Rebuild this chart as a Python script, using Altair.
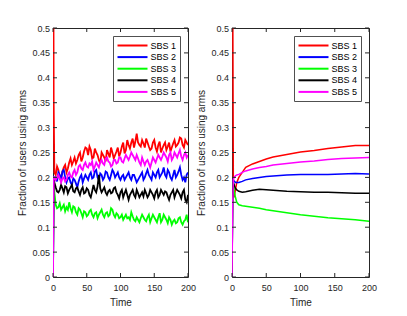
import altair as alt
import pandas as pd

series_names = ["SBS 1", "SBS 2", "SBS 3", "SBS 4", "SBS 5"]
series_colors = ["#ff0000", "#0000ff", "#00ff00", "#000000", "#ff00ff"]

x_ticks = [0, 50, 100, 150, 200]
y_ticks = [0, 0.05, 0.1, 0.15, 0.2, 0.25, 0.3, 0.35, 0.4, 0.45, 0.5]

# ---------------- left panel (noisy) ----------------
t_left = [0, 1] + list(range(2, 201, 2))
left_sbs1 = [1.0, 0.35, 0.21,
             0.205, 0.222, 0.215, 0.198, 0.2, 0.212, 0.22, 0.225, 0.21, 0.218,
             0.23, 0.238, 0.225, 0.232, 0.24, 0.228, 0.235, 0.245, 0.25, 0.232,
             0.24, 0.252, 0.26, 0.258, 0.245, 0.262, 0.255, 0.238, 0.24, 0.258,
             0.25, 0.245, 0.235, 0.228, 0.25, 0.245, 0.24, 0.232, 0.255, 0.248,
             0.24, 0.26, 0.25, 0.238, 0.245, 0.252, 0.26, 0.242, 0.25, 0.262,
             0.27, 0.248, 0.255, 0.275, 0.265, 0.258, 0.27, 0.278, 0.26, 0.272,
             0.288, 0.27, 0.265, 0.262, 0.275, 0.268, 0.26, 0.278, 0.27, 0.262,
             0.255, 0.258, 0.27, 0.275, 0.26, 0.252, 0.265, 0.272, 0.25, 0.258,
             0.265, 0.27, 0.255, 0.262, 0.27, 0.252, 0.26, 0.268, 0.275, 0.262,
             0.265, 0.27, 0.28, 0.278, 0.265, 0.26, 0.275, 0.27, 0.265]
left_sbs2 = [0.0, 0.2, 0.2,
             0.2, 0.192, 0.21, 0.205, 0.195, 0.212, 0.215, 0.2, 0.19, 0.198,
             0.2, 0.19, 0.185, 0.198, 0.195, 0.188, 0.18, 0.192, 0.2, 0.205,
             0.19, 0.198, 0.205, 0.2, 0.195, 0.205, 0.21, 0.198, 0.2, 0.212,
             0.215, 0.2, 0.195, 0.208, 0.205, 0.195, 0.2, 0.212, 0.21, 0.2,
             0.195, 0.205, 0.215, 0.21, 0.2, 0.205, 0.21, 0.2, 0.195, 0.202,
             0.205, 0.195, 0.2, 0.205, 0.21, 0.2, 0.195, 0.205, 0.205, 0.198,
             0.19, 0.195, 0.2, 0.205, 0.21, 0.195, 0.2, 0.208, 0.215, 0.205,
             0.2, 0.195, 0.21, 0.205, 0.2, 0.21, 0.215, 0.2, 0.205, 0.21,
             0.22, 0.205, 0.2, 0.215, 0.21, 0.2, 0.195, 0.205, 0.215, 0.2,
             0.205, 0.212, 0.22, 0.205, 0.195, 0.2, 0.19, 0.205, 0.21]
left_sbs3 = [0.0, 0.2, 0.17,
             0.145, 0.138, 0.14, 0.148, 0.135, 0.14, 0.145, 0.132, 0.14, 0.135,
             0.15, 0.138, 0.13, 0.142, 0.14, 0.13, 0.125, 0.138, 0.135, 0.128,
             0.12, 0.132, 0.13, 0.122, 0.125, 0.132, 0.135, 0.125, 0.12, 0.128,
             0.13, 0.118, 0.125, 0.13, 0.135, 0.125, 0.12, 0.128, 0.13, 0.122,
             0.125, 0.138, 0.135, 0.125, 0.12, 0.128, 0.125, 0.118, 0.12, 0.125,
             0.115, 0.12, 0.125, 0.118, 0.12, 0.115, 0.13, 0.122, 0.115, 0.112,
             0.12, 0.115, 0.11, 0.118, 0.125, 0.12, 0.115, 0.112, 0.12, 0.125,
             0.11, 0.118, 0.125, 0.12, 0.115, 0.11, 0.12, 0.128, 0.11, 0.115,
             0.125, 0.12, 0.115, 0.108, 0.12, 0.115, 0.105, 0.112, 0.115, 0.108,
             0.11, 0.118, 0.12, 0.11, 0.105, 0.112, 0.115, 0.125, 0.11]
left_sbs4 = [0.0, 0.2, 0.19,
             0.18, 0.172, 0.17, 0.175, 0.185, 0.178, 0.17, 0.182, 0.18, 0.168,
             0.175, 0.18, 0.185, 0.172, 0.17, 0.178, 0.18, 0.172, 0.165, 0.175,
             0.18, 0.168, 0.17, 0.178, 0.175, 0.165, 0.16, 0.172, 0.185, 0.175,
             0.17, 0.182, 0.205, 0.178, 0.17, 0.175, 0.18, 0.17, 0.165, 0.172,
             0.175, 0.168, 0.17, 0.178, 0.18, 0.17, 0.165, 0.158, 0.17, 0.175,
             0.16, 0.168, 0.175, 0.165, 0.155, 0.165, 0.17, 0.175, 0.165, 0.16,
             0.175, 0.168, 0.16, 0.165, 0.17, 0.162, 0.175, 0.168, 0.16, 0.165,
             0.175, 0.17, 0.165, 0.158, 0.17, 0.175, 0.16, 0.165, 0.175, 0.17,
             0.165, 0.172, 0.17, 0.162, 0.155, 0.165, 0.17, 0.175, 0.16, 0.168,
             0.175, 0.17, 0.165, 0.158, 0.17, 0.175, 0.155, 0.15, 0.165]
left_sbs5 = [0.0, 0.2, 0.2,
             0.195, 0.2, 0.205, 0.198, 0.19, 0.198, 0.2, 0.192, 0.195, 0.205,
             0.21, 0.202, 0.2, 0.21, 0.215, 0.205, 0.21, 0.222, 0.225, 0.218,
             0.215, 0.225, 0.23, 0.222, 0.22, 0.228, 0.225, 0.232, 0.215, 0.222,
             0.23, 0.225, 0.22, 0.23, 0.235, 0.228, 0.225, 0.238, 0.24, 0.232,
             0.23, 0.222, 0.225, 0.235, 0.235, 0.228, 0.23, 0.24, 0.24, 0.232,
             0.23, 0.238, 0.245, 0.24, 0.235, 0.242, 0.25, 0.245, 0.24, 0.235,
             0.245, 0.238, 0.23, 0.225, 0.24, 0.232, 0.225, 0.232, 0.235, 0.228,
             0.22, 0.23, 0.24, 0.235, 0.23, 0.238, 0.245, 0.24, 0.235, 0.242,
             0.25, 0.245, 0.24, 0.232, 0.245, 0.25, 0.235, 0.24, 0.25, 0.245,
             0.24, 0.248, 0.255, 0.242, 0.235, 0.245, 0.25, 0.24, 0.245]

# ---------------- right panel (smooth) ----------------
t_right = [0, 1, 2, 3, 5, 7, 10, 15, 20, 30, 40, 50, 60, 80, 100, 120, 140, 160, 180, 200]
right_sbs1 = [1.0, 0.6, 0.17, 0.16, 0.175, 0.19, 0.2, 0.21, 0.22, 0.227, 0.232,
              0.237, 0.241, 0.246, 0.251, 0.254, 0.258, 0.261, 0.264, 0.264]
right_sbs2 = [0.0, 0.18, 0.195, 0.193, 0.19, 0.19, 0.19, 0.192, 0.195, 0.198, 0.2,
              0.202, 0.203, 0.205, 0.206, 0.206, 0.206, 0.207, 0.208, 0.207]
right_sbs3 = [0.0, 0.18, 0.19, 0.175, 0.16, 0.15, 0.145, 0.143, 0.142, 0.14, 0.138,
              0.135, 0.133, 0.129, 0.125, 0.122, 0.119, 0.117, 0.115, 0.112]
right_sbs4 = [0.0, 0.17, 0.19, 0.185, 0.178, 0.175, 0.172, 0.17, 0.171, 0.174, 0.176,
              0.175, 0.174, 0.172, 0.171, 0.17, 0.17, 0.169, 0.168, 0.168]
right_sbs5 = [0.0, 0.15, 0.195, 0.2, 0.203, 0.205, 0.206, 0.21, 0.213, 0.217, 0.22,
              0.222, 0.225, 0.228, 0.231, 0.233, 0.236, 0.238, 0.239, 0.24]

FONT = "Liberation Sans"
FRAME = "#262626"


def long_df(t, cols):
    rows = []
    for name, vals in zip(series_names, cols):
        assert len(vals) == len(t), (name, len(vals), len(t))
        for tt, v in zip(t, vals):
            rows.append({"t": tt, "v": v, "series": name})
    return pd.DataFrame(rows)


def panel(df, W, H, lw):
    xs = alt.Scale(domain=[0, 200], nice=False)
    ys = alt.Scale(domain=[0, 0.5], nice=False)
    cscale = alt.Scale(domain=series_names, range=series_colors)
    x_axis = alt.Axis(values=x_ticks, title="Time", ticks=False, domain=False,
                      grid=False, labelPadding=6, titlePadding=5, format="d",
                      labelFlush=False, labelOverlap=False)
    y_axis = alt.Axis(values=y_ticks, title="Fraction of users using arms",
                      ticks=False, domain=False, grid=False, format=".2~f",
                      labelPadding=3.5, titlePadding=4.5,
                      labelFlush=False, labelOverlap=False)
    layers = []
    for name in series_names:
        enc = dict(
            x=alt.X("t:Q", scale=xs, axis=x_axis),
            y=alt.Y("v:Q", scale=ys, axis=y_axis),
            color=alt.Color("series:N", scale=cscale,
                            legend=alt.Legend(title=None, orient="top-right", offset=8,
                                              symbolType="M-1,0H5", symbolSize=100,
                                              symbolStrokeWidth=2, labelOffset=22,
                                              labelFontSize=9,
                                              labelFont=FONT, labelColor="#000",
                                              fillColor="white", strokeColor="#505050",
                                              padding=3.5, rowPadding=0.6)),
        )
        layers.append(
            alt.Chart(df).transform_filter(alt.datum.series == name)
            .mark_line(strokeWidth=lw, clip=True).encode(**enc)
        )
    xt = pd.DataFrame({"t": x_ticks})
    yt = pd.DataFrame({"v": y_ticks})
    tick_style = dict(color=FRAME, thickness=1, size=4, opacity=1)
    layers.append(alt.Chart(xt).mark_tick(orient="vertical", **tick_style).encode(
        x=alt.X("t:Q", scale=xs, axis=x_axis), y=alt.value(2)))
    layers.append(alt.Chart(xt).mark_tick(orient="vertical", **tick_style).encode(
        x=alt.X("t:Q", scale=xs, axis=x_axis), y=alt.value(H - 2)))
    layers.append(alt.Chart(yt).mark_tick(orient="horizontal", **tick_style).encode(
        y=alt.Y("v:Q", scale=ys, axis=y_axis), x=alt.value(2)))
    layers.append(alt.Chart(yt).mark_tick(orient="horizontal", **tick_style).encode(
        y=alt.Y("v:Q", scale=ys, axis=y_axis), x=alt.value(W - 2)))
    return alt.layer(*layers).properties(width=W, height=H)


left = panel(long_df(t_left, [left_sbs1, left_sbs2, left_sbs3, left_sbs4, left_sbs5]), 135, 249, 1.8)
right = panel(long_df(t_right, [right_sbs1, right_sbs2, right_sbs3, right_sbs4, right_sbs5]), 137, 249, 1.5)

chart = (
    alt.hconcat(left, right, spacing=44, bounds="flush")
    .resolve_scale(color="independent")
    .properties(padding={"left": 8, "top": 15, "right": 5, "bottom": 3})
    .configure_view(stroke=FRAME, strokeWidth=1)
    .configure_axis(labelFont=FONT, labelFontSize=9, labelColor=FRAME,
                    titleFont=FONT, titleFontSize=10, titleFontWeight="normal",
                    titleColor=FRAME)
)

chart.save("out.html", embed_options={"renderer": "svg", "actions": False})
